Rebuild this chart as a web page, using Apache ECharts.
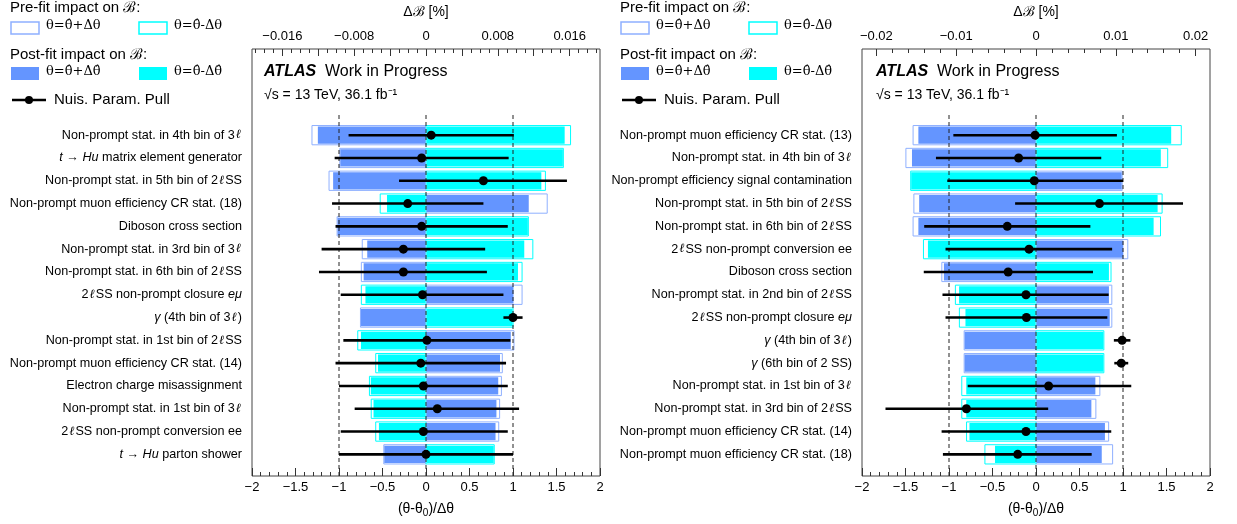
<!DOCTYPE html>
<html><head><meta charset="utf-8">
<script src="https://cdn.jsdelivr.net/npm/echarts@6/dist/echarts.min.js"></script>
<style>html,body{margin:0;padding:0;background:#fff}#c{width:1237px;height:524px}</style>
</head><body><div id="c"></div>
<script>
// ---------------- DATA (top row first) ----------------
const leftNames = [
  "Non-prompt stat. in 4th bin of 3{l|ℓ}",
  "{i|t} → {i|Hu} matrix element generator",
  "Non-prompt stat. in 5th bin of 2{l|ℓ}SS",
  "Non-prompt muon efficiency CR stat. (18)",
  "Diboson cross section",
  "Non-prompt stat. in 3rd bin of 3{l|ℓ}",
  "Non-prompt stat. in 6th bin of 2{l|ℓ}SS",
  "2{l|ℓ}SS non-prompt closure {i|eμ}",
  "{i|γ} (4th bin of 3{l|ℓ})",
  "Non-prompt stat. in 1st bin of 2{l|ℓ}SS",
  "Non-prompt muon efficiency CR stat. (14)",
  "Electron charge misassignment",
  "Non-prompt stat. in 1st bin of 3{l|ℓ}",
  "2{l|ℓ}SS non-prompt conversion ee",
  "{i|t} → {i|Hu} parton shower"
];
// impacts on B in % (top axis units)
const leftPrePlus   = [-0.0127,-0.0096,-0.0108, 0.0135,-0.0099,-0.0071,-0.0072, 0.0107,-0.0073, 0.0098, 0.0085, 0.0084, 0.0082, 0.0081,-0.0047];
const leftPreMinus  = [ 0.0161, 0.0153, 0.0133,-0.0051, 0.0114, 0.0119, 0.0107,-0.0072, 0.0097,-0.0076,-0.0056,-0.0063,-0.0061,-0.0056, 0.0076];
const leftPostPlus  = [-0.0121,-0.0096,-0.0104, 0.0115,-0.0099,-0.0066,-0.0070, 0.0098,-0.0073, 0.0095, 0.0083, 0.0081, 0.0079, 0.0078,-0.0047];
const leftPostMinus = [ 0.0155, 0.0153, 0.0129,-0.0044, 0.0114, 0.0110, 0.0103,-0.0068, 0.0097,-0.0073,-0.0054,-0.0062,-0.0059,-0.0053, 0.0076];
// pulls (bottom axis units)
const leftPull   = [0.06,-0.05,0.66,-0.21,-0.05,-0.26,-0.26,-0.04,1.00,0.01,-0.06,-0.03,0.13,-0.03,0.00];
const leftErrLo  = [0.95, 1.00,0.97, 0.87, 0.99, 0.94, 0.97, 0.94,0.11,0.96, 0.98, 0.97,0.95, 0.95,1.00];
const leftErrHi  = [0.95, 1.00,0.96, 0.87, 0.99, 0.94, 0.96, 0.93,0.11,0.96, 0.98, 0.97,0.94, 0.97,1.00];

const rightNames = [
  "Non-prompt muon efficiency CR stat. (13)",
  "Non-prompt stat. in 4th bin of 3{l|ℓ}",
  "Non-prompt efficiency signal contamination",
  "Non-prompt stat. in 5th bin of 2{l|ℓ}SS",
  "Non-prompt stat. in 6th bin of 2{l|ℓ}SS",
  "2{l|ℓ}SS non-prompt conversion ee",
  "Diboson cross section",
  "Non-prompt stat. in 2nd bin of 2{l|ℓ}SS",
  "2{l|ℓ}SS non-prompt closure {i|eμ}",
  "{i|γ} (4th bin of 3{l|ℓ})",
  "{i|γ} (6th bin of 2 SS)",
  "Non-prompt stat. in 1st bin of 3{l|ℓ}",
  "Non-prompt stat. in 3rd bin of 2{l|ℓ}SS",
  "Non-prompt muon efficiency CR stat. (14)",
  "Non-prompt muon efficiency CR stat. (18)"
];
const rightPrePlus   = [-0.0154,-0.0163, 0.0108,-0.0153,-0.0154, 0.0115,-0.0118, 0.0095, 0.0095,-0.0090,-0.0090, 0.0080, 0.0075, 0.0091, 0.0096];
const rightPreMinus  = [ 0.0182, 0.0165,-0.0157, 0.0158, 0.0156,-0.0141, 0.0094,-0.0101,-0.0096, 0.0085, 0.0085,-0.0093,-0.0093,-0.0087,-0.0064];
const rightPostPlus  = [-0.0148,-0.0156, 0.0108,-0.0147,-0.0148, 0.0110,-0.0116, 0.0092, 0.0093,-0.0090,-0.0090, 0.0075, 0.0070, 0.0087, 0.0083];
const rightPostMinus = [ 0.0170, 0.0157,-0.0157, 0.0153, 0.0148,-0.0136, 0.0092,-0.0097,-0.0089, 0.0085, 0.0085,-0.0088,-0.0088,-0.0084,-0.0052];
const rightPull  = [-0.01,-0.20,-0.02,0.73,-0.33,-0.08,-0.32,-0.115,-0.11,0.99,0.98,0.145,-0.80,-0.115,-0.21];
const rightErrLo = [ 0.94, 0.95, 1.00,0.97, 0.955,0.96, 0.97, 0.96, 0.93,0.095,0.08,0.93, 0.93, 0.97, 0.86];
const rightErrHi = [ 0.94, 0.95, 1.02,0.96, 0.955,0.955,0.975,0.95, 0.93,0.095,0.08,0.95, 0.94, 0.98, 0.85];

// axis tick labels
const bottomTicks = [-2,-1.5,-1,-0.5,0,0.5,1,1.5,2];
const leftTopLabels  = [-0.016,-0.008,0,0.008,0.016];
const rightTopLabels = [-0.02,-0.01,0,0.01,0.02];
const dashedAt = [-1, 0, 1];
const DASH_TOP = 16;

// ---------------- STYLE ----------------
const BLUE = '#6495ff', BLUE_LINE = '#8fb0ff', CYAN = '#00ffff';
const SANS = '"Liberation Sans", Arial, Helvetica, sans-serif';
const SERIF = '"DejaVu Serif", "Liberation Serif", serif';
const LBL = 12.6;
const BAR_H = 0.845;
const Y_MIN = 0.05, Y_MAX = 18.78;

function fmt(v){ if (Math.abs(v) < 1e-12) return '0'; return (v<0?'\u2212':'') + String(+Math.abs(v).toFixed(4)); }
function stepList(a, b, s){ const out=[]; const n=Math.round((b-a)/s); for(let i=0;i<=n;i++) out.push(+(a+i*s).toFixed(6)); return out; }

const grids=[], xAxes=[], yAxes=[], series=[];

function barRender(fill, stroke, inset){
  return function(params, api){
    const v = api.value(0), y = api.value(1);
    const p0 = api.coord([0, y]), p1 = api.coord([v, y]);
    const h = api.size([0, BAR_H])[1];
    const x = Math.min(p0[0], p1[0]), w = Math.abs(p1[0]-p0[0]);
    return {type:'rect', shape:{x:x+inset*0.5, y:p0[1]-h/2+inset, width:Math.max(0,w-inset), height:h-2*inset},
      style: stroke ? {fill:fill, stroke:stroke, lineWidth:1} : {fill:fill}};
  };
}

function panel(g, cfg){
  const n = cfg.names.length;
  const rowY = cfg.names.map((_, i) => n - i);
  grids.push({left:cfg.left, top:47, width:348, height:429, show:true, borderColor:'#444', borderWidth:1, backgroundColor:'transparent'});
  const xb = xAxes.length;
  xAxes.push({gridIndex:g, type:'value', position:'bottom', min:-2, max:2, interval:0.5,
    axisLine:{show:false}, splitLine:{show:false},
    axisTick:{inside:true, length:8, lineStyle:{color:'#333'}},
    minorTick:{show:true, splitNumber:5, length:4, lineStyle:{color:'#333'}},
    axisLabel:{formatter:fmt, fontFamily:SANS, fontSize:13, color:'#000', margin:5},
    name:'(θ-θ{s|0})/Δθ', nameLocation:'middle', nameGap:24,
    nameTextStyle:{fontFamily:SANS, fontSize:14, color:'#000', verticalAlign:'top',
      rich:{s:{fontFamily:SANS, fontSize:10, color:'#000', verticalAlign:'bottom', padding:[8,0,0,0]}}}
  });
  xAxes.push({gridIndex:g, type:'value', position:'top', min:-cfg.range, max:cfg.range,
    axisLine:{show:false}, splitLine:{show:false},
    axisTick:{inside:true, length:7, customValues:cfg.topMajor, lineStyle:{color:'#333'}},
    axisLabel:{customValues:cfg.topLabels, formatter:fmt, fontFamily:SANS, fontSize:13, color:'#000', margin:6},
    name:'Δℬ [%]', nameLocation:'middle', nameGap:30,
    nameTextStyle:{fontFamily:SANS, fontSize:14, color:'#000'}
  });
  xAxes.push({gridIndex:g, type:'value', position:'top', offset:0, min:-cfg.range, max:cfg.range,
    axisLine:{show:false}, splitLine:{show:false}, axisLabel:{show:false},
    axisTick:{inside:true, length:4, customValues:cfg.topMinor, lineStyle:{color:'#333'}}
  });
  yAxes.push({gridIndex:g, type:'value', min:Y_MIN, max:Y_MAX,
    axisLine:{show:false}, splitLine:{show:false}, axisTick:{show:false},
    axisLabel:{customValues:rowY, margin:10, fontFamily:SANS, fontSize:LBL, color:'#000',
      formatter: v => cfg.names[n - Math.round(v)] || '',
      rich:{
        i:{fontFamily:SANS, fontSize:LBL, fontStyle:'italic', color:'#000'},
        l:{fontFamily:SERIF, fontSize:LBL, fontStyle:'italic', color:'#000', padding:[0,1,0,1]}
      }}
  });
  const mk = arr => arr.map((v, i) => [v, rowY[i]]);
  const top = xb + 1, bot = xb;
  series.push({type:'custom', xAxisIndex:top, yAxisIndex:g, renderItem:barRender('#fff', BLUE_LINE, 0), data:mk(cfg.prePlus), z:1});
  series.push({type:'custom', xAxisIndex:top, yAxisIndex:g, renderItem:barRender('#fff', CYAN, 0), data:mk(cfg.preMinus), z:1});
  series.push({type:'custom', xAxisIndex:top, yAxisIndex:g, renderItem:barRender(BLUE, null, 1), data:mk(cfg.postPlus), z:2});
  series.push({type:'custom', xAxisIndex:top, yAxisIndex:g, renderItem:barRender(CYAN, null, 1), data:mk(cfg.postMinus), z:2});
  series.push({type:'custom', xAxisIndex:bot, yAxisIndex:g, z:3, data:dashedAt.map(x => [x, Y_MIN]),
    renderItem:(p, api) => { const a = api.coord([api.value(0), Y_MIN]), b = api.coord([api.value(0), DASH_TOP]);
      return {type:'line', shape:{x1:a[0], y1:a[1], x2:b[0], y2:b[1]}, style:{stroke:'#222', lineWidth:1, lineDash:[4,3]}}; }});
  series.push({type:'custom', xAxisIndex:bot, yAxisIndex:g, z:4,
    data: cfg.pull.map((p, i) => [p, rowY[i], cfg.errLo[i], cfg.errHi[i]]),
    encode:{x:0, y:1},
    renderItem:(p, api) => {
      const v = api.value(0), y = api.value(1), lo = api.value(2), hi = api.value(3);
      const a = api.coord([v-lo, y]), b = api.coord([v+hi, y]), c = api.coord([v, y]);
      return {type:'group', children:[
        {type:'line', shape:{x1:a[0], y1:a[1], x2:b[0], y2:b[1]}, style:{stroke:'#000', lineWidth:2.6}},
        {type:'circle', shape:{cx:c[0], cy:c[1], r:4.5}, style:{fill:'#000'}}
      ]};
    }});
}

panel(0, {left:252, range:0.01938, names:leftNames, prePlus:leftPrePlus, preMinus:leftPreMinus,
  postPlus:leftPostPlus, postMinus:leftPostMinus, pull:leftPull, errLo:leftErrLo, errHi:leftErrHi,
  topLabels:leftTopLabels, topMajor:stepList(-0.016, 0.016, 0.004), topMinor:stepList(-0.019, 0.019, 0.001)});
panel(1, {left:862, range:0.0218, names:rightNames, prePlus:rightPrePlus, preMinus:rightPreMinus,
  postPlus:rightPostPlus, postMinus:rightPostMinus, pull:rightPull, errLo:rightErrLo, errHi:rightErrHi,
  topLabels:rightTopLabels, topMajor:stepList(-0.02, 0.02, 0.01), topMinor:stepList(-0.02, 0.02, 0.002)});

// ---------------- legend / annotations ----------------
function legend(dx){
  const t = (x, y, text, font, size) => ({type:'text', left:x+dx, top:y, style:{text:text, font:`${size}px ${font}`, fill:'#000'}});
  return [
    t(10, 0, 'Pre-fit impact on ℬ:', SANS, 15),
    {type:'rect', shape:{x:11+dx, y:22, width:28, height:12}, style:{fill:'#fff', stroke:BLUE_LINE, lineWidth:1.5}},
    t(46, 19, 'θ=θ̂+Δθ', SERIF, 13),
    {type:'rect', shape:{x:139+dx, y:22, width:28, height:12}, style:{fill:'#fff', stroke:CYAN, lineWidth:1.5}},
    t(174, 19, 'θ=θ̂-Δθ', SERIF, 13),
    t(10, 47, 'Post-fit impact on ℬ:', SANS, 15),
    {type:'rect', shape:{x:11+dx, y:67, width:28, height:13}, style:{fill:BLUE}},
    t(46, 65, 'θ=θ̂+Δθ̂', SERIF, 13),
    {type:'rect', shape:{x:139+dx, y:67, width:28, height:13}, style:{fill:CYAN}},
    t(174, 65, 'θ=θ̂-Δθ̂', SERIF, 13),
    {type:'line', shape:{x1:12+dx, y1:100, x2:46+dx, y2:100}, style:{stroke:'#000', lineWidth:2.5}},
    {type:'circle', shape:{cx:29+dx, cy:100, r:4}, style:{fill:'#000'}},
    t(54, 92, 'Nuis. Param. Pull', SANS, 15)
  ];
}
function atlas(x){
  return [
    {type:'text', left:x, top:64, style:{rich:{b:{font:`italic bold 16px ${SANS}`, fill:'#000'}, n:{font:`16px ${SANS}`, fill:'#000'}},
      text:'{b|ATLAS}{n|  Work in Progress}'}},
    {type:'text', left:x, top:88, style:{text:'√s = 13 TeV, 36.1 fb⁻¹', font:`14px ${SANS}`, fill:'#000'}}
  ];
}

const option = {
  backgroundColor:'#fff', animation:false,
  grid:grids, xAxis:xAxes, yAxis:yAxes, series:series,
  graphic:[].concat(legend(0), legend(610), atlas(264), atlas(876))
};
const chart = echarts.init(document.getElementById('c'), null, {renderer:'canvas'});
chart.setOption(option);
</script></body></html>
